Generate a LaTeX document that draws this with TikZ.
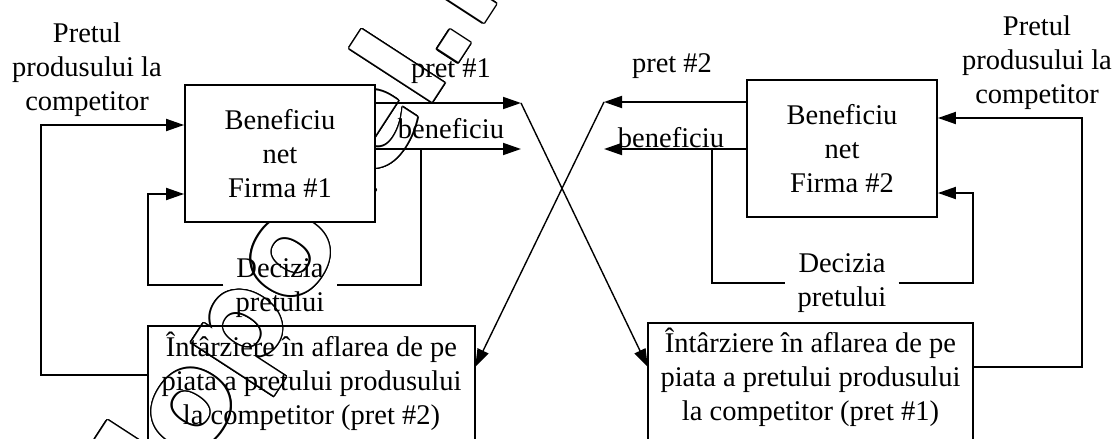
\documentclass[tikz,border=0pt]{standalone}
\usepackage{fontspec}
\setmainfont{Liberation Serif}
\newfontfamily\markfont{DejaVu Sans}
\usetikzlibrary{arrows.meta}
\begin{document}
\begin{tikzpicture}[x=1pt,y=-1pt,
  lbl/.style={font=\fontsize{28.5}{34}\selectfont, inner sep=0pt, align=center},
  box/.style={lbl, draw, line width=1.8pt, fill=white, minimum width=190pt, minimum height=137pt},
  wire/.style={line width=1.8pt},
  flow/.style={wire, -{Triangle[length=18pt,width=12pt]}},
  cross/.style={line width=1.4pt, -{Triangle[length=18pt,width=12pt]}},
  wmk/.style={font=\markfont\bfseries\fontsize{130}{130}\selectfont, inner sep=0pt, rotate=57},
]
\useasboundingbox (0,0) rectangle (1114,439);

% hollow diagonal site mark, drawn first so everything else lies above it
\coordinate (wmP) at (451,74);
\foreach \a [count=\i] in {0,22.5,...,337.5} {
  \node[wmk, anchor=base east, text=black] (wmL\i) at ([shift={(\a:1.5pt)}]wmP) {referat.clopotel};
  \node[wmk, anchor=base west, text=black] (wmR\i) at ([shift={(\a:1.5pt)}]wmP) {.ro};
}
\node[wmk, anchor=base east, text=white] (wmL) at (wmP) {referat.clopotel};
\node[wmk, anchor=base west, text=white] (wmR) at (wmP) {.ro};

% firms
\node[box] (firm1) at (280,153.5) {Beneficiu\\net\\Firma \#1};
\node[box] (firm2) at (842,148.5) {Beneficiu\\net\\Firma \#2};

% competitor price inputs
\node[lbl] (priceL) at (87,70) {Pretul\\produsului la\\competitor};
\node[lbl] (priceR) at (1037,63) {Pretul\\produsului la\\competitor};

% delay blocks (open at the bottom)
\node[lbl, minimum width=327pt] (delayL) at (311.5,381.7) {Întârziere în aflarea de pe\\piata a pretului produsului\\la competitor (pret \#2)};
\node[lbl, minimum width=325pt] (delayR) at (810.5,377.7) {Întârziere în aflarea de pe\\piata a pretului produsului\\la competitor (pret \#1)};
\coordinate (bot) at (0,470);
\coordinate (topL) at (0,326);
\coordinate (topR) at (0,323);
\draw[wire] (delayL.west |- bot) -- (delayL.west |- topL) -- (delayL.east |- topL) -- (delayL.east |- bot);
\draw[wire] (delayR.west |- bot) -- (delayR.west |- topR) -- (delayR.east |- topR) -- (delayR.east |- bot);

% price decisions
\node[lbl, inner xsep=12pt] (decL) at (280,288.4) {Decizia\\pretului};
\node[lbl, inner xsep=12pt] (decR) at (842,283.4) {Decizia\\pretului};

% output labels
\node[lbl, anchor=base] (p1) at (451,77) {pret \#1};
\node[lbl, anchor=base] (b1) at (451,138) {beneficiu};
\node[lbl, anchor=base] (p2) at (672,72) {pret \#2};
\node[lbl, anchor=base] (b2) at (671,147) {beneficiu};

% outputs
\coordinate (t1) at (521,103);
\coordinate (t2) at (521,149);
\coordinate (t3) at (604,102);
\coordinate (t4) at (604,149);
\draw[flow] (firm1.east |- t1) -- (t1);
\draw[flow] (firm1.east |- t2) -- (t2);
\draw[flow] (firm2.west |- t3) -- (t3);
\draw[flow] (firm2.west |- t4) -- (t4);

% prices reach the other firm
\coordinate (e1) at (0,367);
\draw[cross] (t1) -- (delayR.west |- e1);
\draw[cross] (t3) -- (delayL.east |- e1);

% left feedback loop
\coordinate (fL) at (421,149);
\coordinate (fLb) at (421,285);
\coordinate (fLi) at (0,194);
\draw[wire] (fL) -- (fLb) -- (decL.east |- fLb);
\draw[flow] (decL.west |- fLb) -- (delayL.west |- fLb) -- (delayL.west |- fLi) -- (firm1.west |- fLi);

% left competitor price path
\coordinate (iL) at (41,375);
\coordinate (iLt) at (41,125);
\draw[flow] (delayL.west |- iL) -- (iL) -- (iLt) -- (firm1.west |- iLt);

% right feedback loop
\coordinate (fR) at (712,149);
\coordinate (fRb) at (712,283);
\coordinate (fRi) at (0,193);
\draw[wire] (fR) -- (fRb) -- (decR.west |- fRb);
\draw[flow] (decR.east |- fRb) -- (delayR.east |- fRb) -- (delayR.east |- fRi) -- (firm2.east |- fRi);

% right competitor price path
\coordinate (iR) at (1082,367);
\coordinate (iRt) at (1082,118);
\draw[flow] (delayR.east |- iR) -- (iR) -- (iRt) -- (firm2.east |- iRt);
\end{tikzpicture}
\end{document}
